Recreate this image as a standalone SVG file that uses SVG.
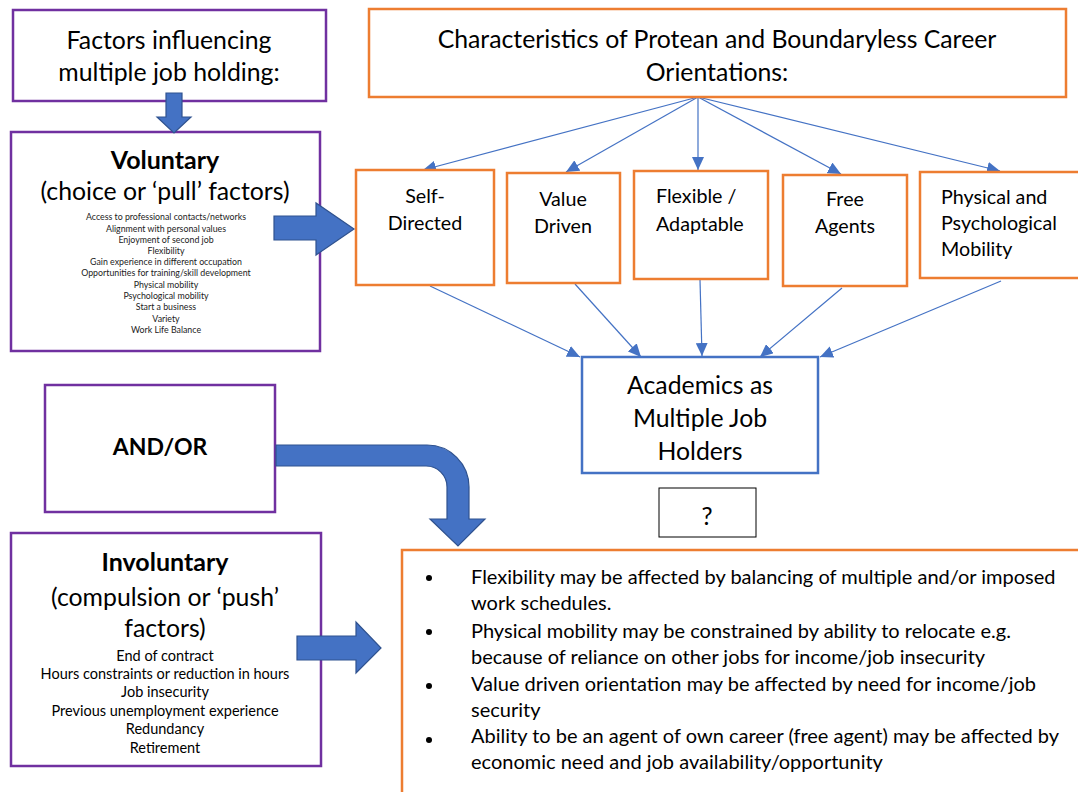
<svg xmlns="http://www.w3.org/2000/svg" width="1078" height="792" viewBox="0 0 1078 792">
  <style>
    .purple { fill: #ffffff; stroke: #7030A0; stroke-width: 2.5; }
    .orange { fill: #ffffff; stroke: #ED7D31; stroke-width: 2.5; }
    .blue { fill: #ffffff; stroke: #4472C4; stroke-width: 2.5; }
    .plain { fill: #ffffff; stroke: #000000; stroke-width: 1; }
    .t { font-family: Lato, "Liberation Sans", sans-serif; fill: #000000; }
    .c { text-anchor: middle; }
    .big { font-size: 24.8px; }
    .mid { font-size: 19.7px; }
    .b { font-weight: bold; }
    .tiny { font-size: 8.8px; fill: #222222; }
    .small { font-size: 14.5px; }
    .body { font-size: 20px; }
    .link { stroke: #4472C4; stroke-width: 1.2; fill: none; marker-end: url(#tip); }
    .block { fill: #4472C4; stroke: #2F528F; stroke-width: 1.2; }
  </style>
  <defs>
    <marker id="tip" markerUnits="userSpaceOnUse" markerWidth="14" markerHeight="12" refX="13" refY="6" orient="auto">
      <path d="M0,0 L13,6 L0,12 Z" fill="#4472C4"/>
    </marker>
  </defs>
  <rect width="1078" height="792" fill="#ffffff"/>

  <!-- thin connectors between the career boxes -->
  <g id="connectors">
    <line class="link" x1="698" y1="97" x2="423" y2="170"/>
    <line class="link" x1="698" y1="97" x2="566" y2="172"/>
    <line class="link" x1="698" y1="97" x2="698" y2="170"/>
    <line class="link" x1="698" y1="97" x2="841" y2="174"/>
    <line class="link" x1="698" y1="97" x2="1000" y2="171"/>
    <line class="link" x1="430" y1="286" x2="580" y2="357"/>
    <line class="link" x1="575" y1="284" x2="641" y2="357"/>
    <line class="link" x1="700" y1="280" x2="702" y2="356"/>
    <line class="link" x1="842" y1="288" x2="760" y2="357"/>
    <line class="link" x1="1001" y1="281" x2="820" y2="357"/>
  </g>

  <g id="factors">
    <rect class="purple" x="13" y="10" width="313" height="91"/>
    <text class="t c big" x="169" y="49">Factors influencing</text>
    <text class="t c big" x="169" y="81">multiple job holding:</text>
  </g>

  <g id="voluntary">
    <rect class="purple" x="11" y="132" width="309" height="219"/>
    <text class="t c b" x="165" y="169" font-size="25">Voluntary</text>
    <text class="t c big" x="165" y="200" font-size="25.3">(choice or ‘pull’ factors)</text>
    <text class="t c tiny" x="166" y="220">Access to professional contacts/networks</text>
    <text class="t c tiny" x="166" y="231.5">Alignment with personal values</text>
    <text class="t c tiny" x="166" y="242.5">Enjoyment of second job</text>
    <text class="t c tiny" x="166" y="253.5">Flexibility</text>
    <text class="t c tiny" x="166" y="265">Gain experience in different occupation</text>
    <text class="t c tiny" x="166" y="276">Opportunities for training/skill development</text>
    <text class="t c tiny" x="166" y="287.5">Physical mobility</text>
    <text class="t c tiny" x="166" y="299">Psychological mobility</text>
    <text class="t c tiny" x="166" y="310">Start a business</text>
    <text class="t c tiny" x="166" y="321.5">Variety</text>
    <text class="t c tiny" x="166" y="333">Work Life Balance</text>
  </g>

  <g id="characteristics">
    <rect class="orange" x="369" y="9" width="697" height="88"/>
    <text class="t c big" x="717" y="48">Characteristics of Protean and Boundaryless Career</text>
    <text class="t c big" x="717" y="81">Orientations:</text>
  </g>

  <g id="self-directed">
    <rect class="orange" x="356" y="170" width="138" height="115"/>
    <text class="t c mid" x="425" y="203">Self-</text>
    <text class="t c mid" x="425" y="230">Directed</text>
  </g>

  <g id="value-driven">
    <rect class="orange" x="507" y="173" width="113" height="110"/>
    <text class="t c mid" x="563" y="206">Value</text>
    <text class="t c mid" x="563" y="233">Driven</text>
  </g>

  <g id="flexible">
    <rect class="orange" x="634" y="171" width="134" height="108"/>
    <text class="t mid" x="656" y="203">Flexible /</text>
    <text class="t mid" x="656" y="231">Adaptable</text>
  </g>

  <g id="free-agents">
    <rect class="orange" x="783" y="175" width="124" height="111"/>
    <text class="t c mid" x="845" y="206">Free</text>
    <text class="t c mid" x="845" y="233">Agents</text>
  </g>

  <g id="mobility">
    <rect class="orange" x="920" y="172" width="170" height="106"/>
    <text class="t mid" x="941" y="204">Physical and</text>
    <text class="t mid" x="941" y="230">Psychological</text>
    <text class="t mid" x="941" y="256">Mobility</text>
  </g>

  <g id="academics">
    <rect class="blue" x="582" y="357" width="236" height="116"/>
    <text class="t c big" x="700" y="394">Academics as</text>
    <text class="t c big" x="700" y="427">Multiple Job</text>
    <text class="t c big" x="700" y="460">Holders</text>
  </g>

  <g id="question">
    <rect class="plain" x="659" y="488" width="97" height="49"/>
    <text class="t c big" x="707" y="525">?</text>
  </g>

  <g id="and-or">
    <rect class="purple" x="45" y="385" width="230" height="127"/>
    <text class="t c b" x="160" y="455" font-size="23">AND/OR</text>
  </g>

  <g id="involuntary">
    <rect class="purple" x="11" y="533" width="310" height="233"/>
    <text class="t c b" x="165" y="571" font-size="25">Involuntary</text>
    <text class="t c big" x="165" y="606">(compulsion or ‘push’</text>
    <text class="t c big" x="165" y="637">factors)</text>
    <text class="t c small" x="165" y="661">End of contract</text>
    <text class="t c small" x="165" y="679">Hours constraints or reduction in hours</text>
    <text class="t c small" x="165" y="697">Job insecurity</text>
    <text class="t c small" x="165" y="716">Previous unemployment experience</text>
    <text class="t c small" x="165" y="734">Redundancy</text>
    <text class="t c small" x="165" y="753">Retirement</text>
  </g>

  <g id="implications">
    <rect class="orange" x="402" y="550" width="700" height="270"/>
    <circle cx="429" cy="578" r="3" fill="#000000"/>
    <circle cx="429" cy="632" r="3" fill="#000000"/>
    <circle cx="429" cy="686" r="3" fill="#000000"/>
    <circle cx="429" cy="740" r="3" fill="#000000"/>
    <text class="t body" x="471" y="584">Flexibility may be affected by balancing of multiple and/or imposed</text>
    <text class="t body" x="471" y="610">work schedules.</text>
    <text class="t body" x="471" y="638">Physical mobility may be constrained by ability to relocate e.g.</text>
    <text class="t body" x="471" y="664">because of reliance on other jobs for income/job insecurity</text>
    <text class="t body" x="471" y="691">Value driven orientation may be affected by need for income/job</text>
    <text class="t body" x="471" y="717">security</text>
    <text class="t body" x="471" y="743">Ability to be an agent of own career (free agent) may be affected by</text>
    <text class="t body" x="471" y="769">economic need and job availability/opportunity</text>
  </g>

  <!-- thick block arrows, drawn over the box borders -->
  <g id="block-arrows">
    <path class="block" d="M166,93 L182,93 L182,117 L191,117 L174,133 L157,117 L166,117 Z"/>
    <path class="block" d="M274,216 L316,216 L316,203 L354,229 L316,255 L316,240 L274,240 Z"/>
    <path class="block" d="M297,636 L356,636 L356,622 L381,648 L356,673 L356,660 L297,660 Z"/>
    <path class="block" d="M276,445 L427,445 A42,42 0 0 1 469,487 L469,519 L485,519 L458,546 L430,519 L447,519 L447,487 A21,21 0 0 0 426,466 L276,466 Z"/>
  </g>
</svg>
